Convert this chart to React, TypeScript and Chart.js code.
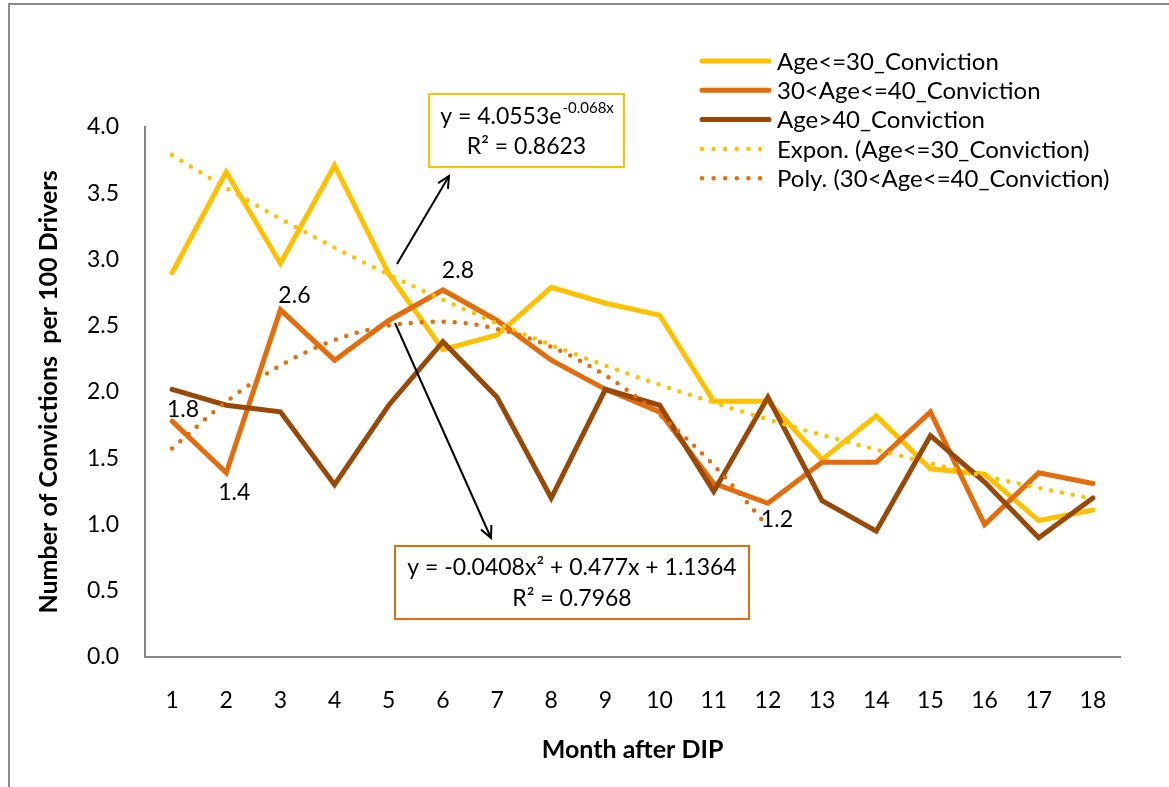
import React, { useEffect, useRef } from 'react';
import { Chart, registerables } from 'chart.js';

Chart.register(...registerables);

// ---------- data ----------
const months = ['1', '2', '3', '4', '5', '6', '7', '8', '9', '10', '11', '12', '13', '14', '15', '16', '17', '18'];
const ageUnder30 = [2.90, 3.66, 2.97, 3.71, 2.89, 2.32, 2.43, 2.79, 2.67, 2.58, 1.93, 1.93, 1.49, 1.82, 1.42, 1.38, 1.03, 1.11];
const age30to40 = [1.78, 1.39, 2.62, 2.24, 2.54, 2.77, 2.54, 2.24, 2.02, 1.85, 1.31, 1.16, 1.47, 1.47, 1.85, 1.00, 1.39, 1.31];
const ageOver40 = [2.02, 1.90, 1.85, 1.30, 1.90, 2.38, 1.96, 1.20, 2.02, 1.90, 1.25, 1.96, 1.18, 0.95, 1.67, 1.32, 0.90, 1.20];
const expTrend = [3.789, 3.540, 3.307, 3.090, 2.886, 2.697, 2.519, 2.354, 2.199, 2.055, 1.920, 1.793, 1.675, 1.565, 1.462, 1.366, 1.276, 1.193];
const polyTrend = [1.573, 1.927, 2.200, 2.392, 2.501, 2.530, 2.476, 2.341, 2.125, 1.826, 1.447, 0.985, null, null, null, null, null, null];
const labeledPoints = [0, 1, 2, 5, 11];

const seriesNames = [
  'Age<=30_Conviction',
  '30<Age<=40_Conviction',
  'Age>40_Conviction',
  'Expon. (Age<=30_Conviction)',
  'Poly. (30<Age<=40_Conviction)',
];
const expEquation = ['y = 4.0553e', '-0.068x'];
const expR2 = 'R² = 0.8623';
const polyEquation = 'y = -0.0408x² + 0.477x + 1.1364';
const polyR2 = 'R² = 0.7968';
const xTitle = 'Month after DIP';
const yTitle = 'Number of Convictions  per 100 Drivers';

// ---------- style ----------
const YELLOW = '#FFC000';
const ORANGE = '#E46C0A';
const BROWN = '#984807';
const AXIS = '#868686';
const FAMILY = 'Lato, "Open Sans", sans-serif';
const FS = 23;
const LEGEND_FS = 24;
const TITLE_FS = 25;

const labelOffsets: [number, number][] = [[11, -12], [8, 20], [14, -14], [15, -19], [9, 16]];

function arrow(ctx: CanvasRenderingContext2D, x1: number, y1: number, x2: number, y2: number) {
  ctx.beginPath();
  ctx.moveTo(x1, y1);
  ctx.lineTo(x2, y2);
  ctx.stroke();
  const a = Math.atan2(y2 - y1, x2 - x1);
  const L = 13, w = 0.45;
  ctx.beginPath();
  ctx.moveTo(x2 - L * Math.cos(a - w), y2 - L * Math.sin(a - w));
  ctx.lineTo(x2, y2);
  ctx.lineTo(x2 - L * Math.cos(a + w), y2 - L * Math.sin(a + w));
  ctx.stroke();
}

const overlay = {
  id: 'overlay',
  afterDraw(chart: any) {
    const ctx: CanvasRenderingContext2D = chart.ctx;
    ctx.save();
    // outer frame
    ctx.strokeStyle = '#8c8c8c';
    ctx.lineWidth = 2;
    ctx.beginPath();
    ctx.moveTo(9, 800);
    ctx.lineTo(9, 4);
    ctx.lineTo(1175, 4);
    ctx.stroke();

    // legend
    const colors = [YELLOW, ORANGE, BROWN, YELLOW, ORANGE];
    const dotted = [false, false, false, true, true];
    ctx.font = `${LEGEND_FS}px ${FAMILY}`;
    ctx.textBaseline = 'middle';
    ctx.textAlign = 'left';
    seriesNames.forEach((name, i) => {
      const y = 61 + i * 29.3;
      ctx.strokeStyle = colors[i];
      ctx.lineCap = 'round';
      if (dotted[i]) {
        ctx.lineWidth = 4.5;
        ctx.setLineDash([0, 11.6]);
        ctx.beginPath();
        ctx.moveTo(702, y);
        ctx.lineTo(762, y);
        ctx.stroke();
        ctx.setLineDash([]);
      } else {
        ctx.lineWidth = 5;
        ctx.beginPath();
        ctx.moveTo(702, y);
        ctx.lineTo(769, y);
        ctx.stroke();
      }
      ctx.fillStyle = '#000';
      ctx.fillText(name, 777, y + 1);
    });

    // data labels on 30-40 series
    ctx.font = `${FS}px ${FAMILY}`;
    const meta = chart.getDatasetMeta(3);
    ctx.fillStyle = '#000';
    ctx.textAlign = 'center';
    labeledPoints.forEach((idx, k) => {
      const p = meta.data[idx];
      const [dx, dy] = labelOffsets[k];
      ctx.fillText(age30to40[idx].toFixed(1), p.x + dx, p.y + dy);
    });

    // arrows
    ctx.strokeStyle = '#000';
    ctx.lineWidth = 2;
    ctx.lineCap = 'butt';
    arrow(ctx, 397, 264, 449, 176);
    arrow(ctx, 395, 323, 491, 538);

    // exp equation box
    ctx.fillStyle = '#fff';
    ctx.fillRect(429, 94, 195, 73);
    ctx.strokeStyle = YELLOW;
    ctx.lineWidth = 2;
    ctx.strokeRect(429, 94, 195, 73);
    ctx.fillStyle = '#000';
    ctx.font = `${FS}px ${FAMILY}`;
    const w1 = ctx.measureText(expEquation[0]).width;
    ctx.font = `15px ${FAMILY}`;
    const w2 = ctx.measureText(expEquation[1]).width;
    const sx = 526.5 - (w1 + w2) / 2;
    ctx.textAlign = 'left';
    ctx.font = `${FS}px ${FAMILY}`;
    ctx.fillText(expEquation[0], sx, 117);
    ctx.font = `15px ${FAMILY}`;
    ctx.fillText(expEquation[1], sx + w1 + 1, 108);
    ctx.font = `${FS}px ${FAMILY}`;
    ctx.textAlign = 'center';
    ctx.fillText(expR2, 526.5, 147);

    // poly equation box
    ctx.fillStyle = '#fff';
    ctx.fillRect(395, 546, 354, 73);
    ctx.strokeStyle = ORANGE;
    ctx.strokeRect(395, 546, 354, 73);
    ctx.fillStyle = '#000';
    ctx.fillText(polyEquation, 572, 568);
    ctx.fillText(polyR2, 572, 599);
    ctx.restore();
  },
};

export default function App() {
  const ref = useRef<HTMLCanvasElement | null>(null);
  useEffect(() => {
    if (!ref.current) return;
    const lineBase = { fill: false, pointRadius: 0, borderCapStyle: 'round', borderJoinStyle: 'miter', tension: 0 };
    const chart = new Chart(ref.current, {
      type: 'line',
      data: {
        labels: months,
        datasets: [
          { ...lineBase, label: seriesNames[3], data: expTrend, borderColor: YELLOW, borderWidth: 4.5, borderDash: [0, 11], cubicInterpolationMode: 'monotone' },
          { ...lineBase, label: seriesNames[4], data: polyTrend, borderColor: ORANGE, borderWidth: 4.5, borderDash: [0, 11], cubicInterpolationMode: 'monotone' },
          { ...lineBase, label: seriesNames[2], data: ageOver40, borderColor: BROWN, borderWidth: 5 },
          { ...lineBase, label: seriesNames[1], data: age30to40, borderColor: ORANGE, borderWidth: 5 },
          { ...lineBase, label: seriesNames[0], data: ageUnder30, borderColor: YELLOW, borderWidth: 5 },
        ] as any,
      },
      options: {
        responsive: false,
        animation: false,
        layout: { padding: { top: 127, right: 49, bottom: 0, left: 0 } },
        plugins: { legend: { display: false }, tooltip: { enabled: false } },
        scales: {
          x: {
            offset: true,
            grid: { display: false, drawTicks: false },
            border: { display: true, color: AXIS, width: 2 },
            ticks: { color: '#000', font: { family: FAMILY, size: FS }, padding: 30, maxRotation: 0, autoSkip: false },
            title: { display: true, text: xTitle, color: '#000', font: { family: FAMILY, size: TITLE_FS, weight: 'bold' }, padding: { top: 0, bottom: 22 } },
            afterFit: (s: any) => { s.height = 130; },
          },
          y: {
            min: 0,
            max: 4,
            grid: { display: false, drawTicks: false },
            border: { display: true, color: AXIS, width: 2 },
            ticks: { stepSize: 0.5, color: '#000', font: { family: FAMILY, size: FS }, padding: 26, callback: (v: any) => Number(v).toFixed(1) },
            title: { display: true, text: yTitle, color: '#000', font: { family: FAMILY, size: TITLE_FS, weight: 'bold' }, padding: { top: 34, bottom: 0 } },
            afterFit: (s: any) => { s.width = 145; },
          },
        },
      } as any,
      plugins: [overlay],
    });
    return () => chart.destroy();
  }, []);
  return (
    <div style={{ position: 'absolute', left: 0, top: 0, width: 1169, height: 787, background: '#fff' }}>
      <canvas ref={ref} width={1169} height={787} style={{ display: 'block' }} />
    </div>
  );
}
